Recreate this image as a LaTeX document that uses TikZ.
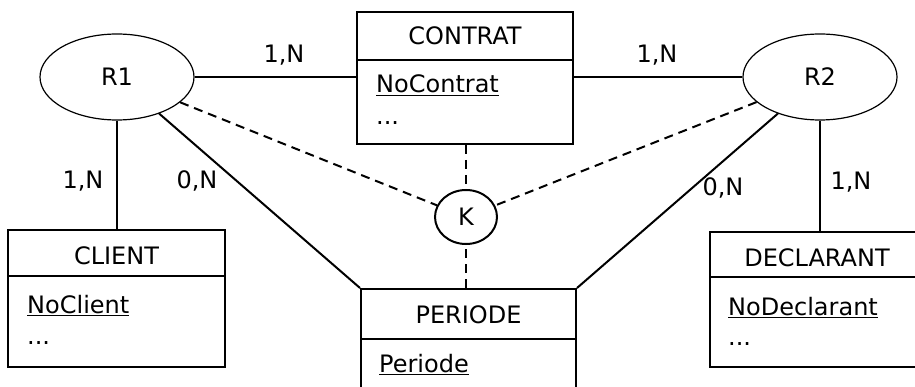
\documentclass[tikz,border=0pt]{standalone}
\usepackage{fontspec}
\setmainfont{DejaVu Sans}
\usetikzlibrary{shapes.geometric}
\tikzset{
  lbl/.style={font=\fontsize{24}{28}\selectfont, inner sep=0pt},
  txt/.style={font=\fontsize{24}{28}\selectfont, inner sep=0pt},
  ent/.style={draw, line width=2pt, rectangle, inner sep=0pt},
  rel/.style={draw, ellipse, line width=1.2pt, inner sep=0pt, font=\fontsize{24}{28}\selectfont},
  link/.style={line width=2pt},
  dlink/.style={line width=2pt, dash pattern=on 9pt off 6pt},
}
\begin{document}
\begin{tikzpicture}[x=1pt,y=-1pt]
\useasboundingbox (0,0) rectangle (915,387);
\fill[white] (0,0) rectangle (915,387);
\clip (0,0) rectangle (915,387);
% entities
\node[ent, minimum width=216pt, minimum height=132pt] (contrat) at (465,78) {};
\node[ent, minimum width=217pt, minimum height=137pt] (client) at (116.5,298.5) {};
\node[ent, minimum width=215pt, minimum height=160pt] (periode) at (468.5,369) {};
\node[ent, minimum width=230pt, minimum height=135pt] (declarant) at (825,299.5) {};
\draw[link] (contrat.west |- 0,60) -- (contrat.east |- 0,60);
\draw[link] (client.west |- 0,276) -- (client.east |- 0,276);
\draw[link] (periode.west |- 0,339) -- (periode.east |- 0,339);
\draw[link] (declarant.west |- 0,277) -- (declarant.east |- 0,277);
% texts
\node[txt, anchor=base] (contratT) at (465,45) {CONTRAT};
\node[txt, anchor=base west] (contratK) at (376,93) {\underline{NoContrat}};
\node[txt, anchor=base west] (contratD) at (376,125) {...};
\node[txt, anchor=base] (clientT) at (116.5,265) {CLIENT};
\node[txt, anchor=base west] (clientK) at (27,313) {\underline{NoClient}};
\node[txt, anchor=base west] (clientD) at (27,344) {...};
\node[txt, anchor=base] (periodeT) at (468.5,323) {PERIODE};
\node[txt, anchor=base west] (periodeK) at (379,372) {\underline{Periode}};
\node[txt, anchor=base] (declarantT) at (817,266) {DECLARANT};
\node[txt, anchor=base west] (declarantK) at (728,315) {\underline{NoDeclarant}};
\node[txt, anchor=base west] (declarantD) at (728,345) {...};
% relations
\node[rel, minimum width=154pt, minimum height=86pt] (r1) at (117,77) {R1};
\node[rel, minimum width=154pt, minimum height=86pt] (r2) at (820,77) {R2};
\node[rel, line width=2pt, minimum width=62pt, minimum height=54pt] (k) at (466,217) {K};
% connectors
\draw[link] (r1) -- (r1 -| contrat.west);
\draw[link] (contrat.east |- r2) -- (r2);
\draw[link] (r1) -- (r1 |- client.north);
\draw[link] (r1) -- (periode.north west);
\draw[link] (r2) -- (periode.north east);
\draw[link] (r2) -- (r2 |- declarant.north);
\draw[dlink] (r1) -- (k);
\draw[dlink] (r2) -- (k);
\draw[dlink] (k |- contrat.south) -- (k);
\draw[dlink] (k |- periode.north) -- (k);
% cardinalities
\node[lbl] (c1) at (284,55) {1,N};
\node[lbl] (c2) at (657,55) {1,N};
\node[lbl] (c3) at (83,181) {1,N};
\node[lbl] (c4) at (197,181) {0,N};
\node[lbl] (c5) at (723,188) {0,N};
\node[lbl] (c6) at (851,182) {1,N};
\end{tikzpicture}
\end{document}
